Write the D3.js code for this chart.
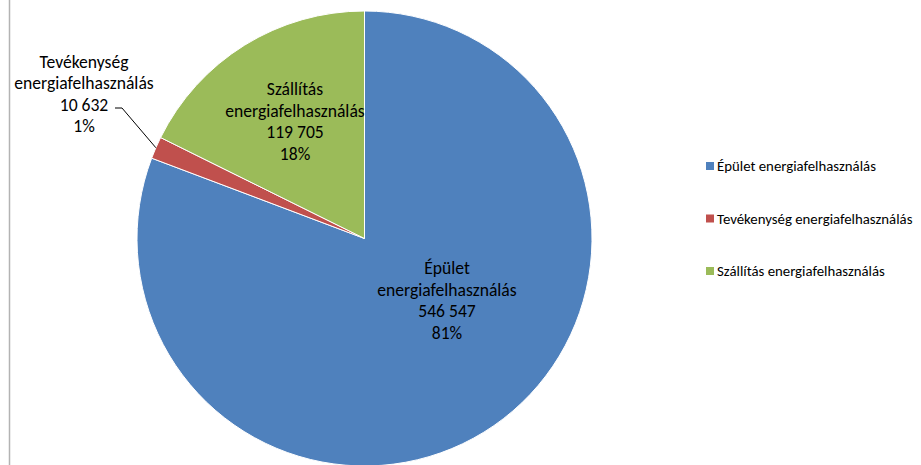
<!DOCTYPE html>
<html>
<head>
<meta charset="utf-8">
<script src="https://cdn.jsdelivr.net/npm/d3@7"></script>
<style>
  body { margin: 0; background: #fff; }
  text { font-family: Carlito, Calibri, Lato, "Liberation Sans", sans-serif; fill: #000; }
</style>
</head>
<body>
<div id="chart"></div>
<script>
// # Data.
const categories = ['Épület energiafelhasználás', 'Tevékenység energiafelhasználás', 'Szállítás energiafelhasználás']
const labelLines = [['Épület', 'energiafelhasználás'], ['Tevékenység', 'energiafelhasználás'], ['Szállítás', 'energiafelhasználás']]
const values = [546547, 10632, 119705]
const percents = ['81%', '1%', '18%']
const colors = ['#4F81BD', '#C0504D', '#9BBB59']

const width = 921, height = 465
const cx = 364.5, cy = 238.5, r = 227.5

let svg = d3.select('#chart')
    .append('svg')
    .attr('width', width)
    .attr('height', height)

// left frame edge
svg.append('line')
    .attr('x1', 9.5).attr('x2', 9.5)
    .attr('y1', 0).attr('y2', height)
    .attr('stroke', '#b3b3b3')
    .attr('stroke-width', 1.5)

let fmt = v => d3.format(',')(v).replace(/,/g, ' ')

let pie = d3.pie().sort(null).value(d => d)
let arcs = pie(values)
let arc = d3.arc().innerRadius(0).outerRadius(r)

let g = svg.append('g').attr('transform', `translate(${cx},${cy})`)
g.selectAll('path')
    .data(arcs)
    .enter().append('path')
    .attr('d', arc)
    .attr('fill', (d, i) => colors[i])
    .attr('stroke', '#fff')
    .attr('stroke-width', 1)

// # Data labels (offsets from centre, where Excel placed them).
let labelPos = [[82.5, 35.5], [-280.5, -171], [-69.5, -143.5]]
let lineH = 21.5
arcs.forEach((a, i) => {
    let lines = labelLines[i].concat([fmt(values[i]), percents[i]])
    let t = g.append('text')
        .attr('text-anchor', 'middle')
        .attr('font-size', 17.6)
    lines.forEach((s, k) => {
        t.append('tspan')
            .attr('x', labelPos[i][0])
            .attr('y', labelPos[i][1] + k * lineH)
            .text(s)
    })
})

// leader line for the small slice
let mid = (arcs[1].startAngle + arcs[1].endAngle) / 2
let edge = [Math.sin(mid) * r, -Math.cos(mid) * r]
g.append('polyline')
    .attr('points', [[-249.5, -130.5], [-242.5, -130.5], edge].map(p => p.join(',')).join(' '))
    .attr('fill', 'none')
    .attr('stroke', '#000')
    .attr('stroke-width', 1)

// # Legend.
let legend = svg.append('g').attr('transform', 'translate(706,166)')
let item = legend.selectAll('g')
    .data(categories)
    .enter().append('g')
    .attr('transform', (d, i) => `translate(0,${i * 52.5})`)
item.append('rect')
    .attr('x', 0).attr('y', -4)
    .attr('width', 8).attr('height', 8)
    .attr('fill', (d, i) => colors[i])
item.append('text')
    .attr('x', 11)
    .attr('y', 5)
    .attr('font-size', 14.8)
    .text(d => d)
</script>
</body>
</html>
